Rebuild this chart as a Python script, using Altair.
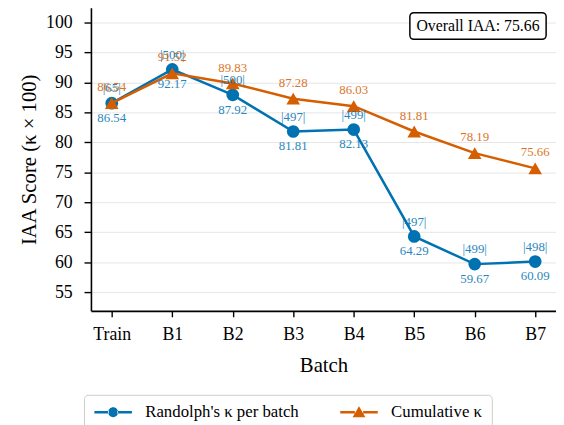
import altair as alt
import pandas as pd

batches = ["Train", "B1", "B2", "B3", "B4", "B5", "B6", "B7"]
per_batch = [86.54, 92.17, 87.92, 81.81, 82.13, 64.29, 59.67, 60.09]
cumulative = [86.54, 91.52, 89.83, 87.28, 86.03, 81.81, 78.19, 75.66]
counts = [65, 500, 500, 497, 499, 497, 499, 498]
series_names = ["Randolph's κ per batch", "Cumulative κ"]
colors = ["#0072B2", "#D55E00"]
y_ticks = [55, 60, 65, 70, 75, 80, 85, 90, 95, 100]

FONT = "Liberation Serif"

rows = []
for b, v, c, n in zip(batches, per_batch, cumulative, counts):
    rows.append(dict(batch=b, series=series_names[0], value=v, label=f"{v:.2f}", count=f"|{n}|"))
    rows.append(dict(batch=b, series=series_names[1], value=c, label=f"{c:.2f}", count=""))
df = pd.DataFrame(rows)

x_enc = alt.X(
    "batch:N", sort=batches, title="Batch",
    scale=alt.Scale(type="point", padding=0.344),
    axis=alt.Axis(labelAngle=0, grid=False, tickSize=6, labelPadding=9, titlePadding=11,
                  labelFontSize=18, titleFontSize=21),
)
y_enc = alt.Y(
    "value:Q", title="IAA Score (κ × 100)",
    scale=alt.Scale(domain=[51.87, 102.47], nice=False, zero=False),
    axis=alt.Axis(values=y_ticks, grid=True, gridColor="#e6e6e6", gridWidth=1,
                  tickSize=7, labelPadding=12, titlePadding=6,
                  labelFontSize=18, titleFontSize=21),
)

base = alt.Chart(df).encode(x=x_enc, y=y_enc)

def sel(i):
    return alt.datum.series == series_names[i]

blue_line = base.transform_filter(sel(0)).mark_line(color=colors[0], strokeWidth=2.5)
blue_pts = base.transform_filter(sel(0)).mark_point(
    shape="circle", filled=True, size=165, color=colors[0], opacity=1)
orange_line = base.transform_filter(sel(1)).mark_line(color=colors[1], strokeWidth=2.5)
orange_pts = base.transform_filter(sel(1)).mark_point(
    shape="triangle-up", filled=True, size=190, color=colors[1], opacity=1)

blue_count = base.transform_filter(sel(0)).mark_text(
    dy=-15, fontSize=13, font=FONT, color=colors[0], opacity=0.85).encode(text="count:N")
blue_val = base.transform_filter(sel(0)).mark_text(
    dy=15, fontSize=13, font=FONT, color=colors[0], opacity=0.85).encode(text="label:N")
orange_val = base.transform_filter(sel(1)).mark_text(
    dy=-16, fontSize=13, font=FONT, color=colors[1], opacity=0.85).encode(text="label:N")

# legend symbols: line + marker (custom paths, unit = 7px)
circle_sym = ("M-2.714,-0.18 H-0.6 V0.18 H-2.714 Z M0.6,-0.18 H2.714 V0.18 H0.6 Z "
              "M-0.714,0 A0.714,0.714 0 1,0 0.714,0 A0.714,0.714 0 1,0 -0.714,0 Z")
tri_sym = ("M-2.714,-0.18 H-0.6 V0.18 H-2.714 Z M0.6,-0.18 H2.714 V0.18 H0.6 Z "
           "M0,-0.86 L0.93,0.71 L-0.93,0.71 Z")

leg = dict(title=None, orient="none", legendX=-7, legendY=392, direction="horizontal",
           symbolSize=196, symbolStrokeWidth=0, symbolOffset=12, labelOffset=24,
           labelFont=FONT, labelFontSize=17, labelColor="black",
           strokeColor="#cccccc", fillColor="white", cornerRadius=4, padding=9,
           columnPadding=40, symbolOpacity=1, labelLimit=300)

legend_layer = base.mark_point(filled=True, opacity=0).encode(
    color=alt.Color("series:N", scale=alt.Scale(domain=series_names, range=colors),
                    legend=alt.Legend(**leg)),
    shape=alt.Shape("series:N", scale=alt.Scale(domain=series_names, range=[circle_sym, tri_sym]),
                    legend=alt.Legend(**leg)),
)

box_df = pd.DataFrame({"t": [f"Overall IAA: {cumulative[-1]:.2f}"]})
box = alt.Chart(box_df).mark_rect(
    fill="white", stroke="black", strokeWidth=1.5, cornerRadius=4
).encode(x=alt.value(323), x2=alt.value(461), y=alt.value(5), y2=alt.value(32))
box_text = alt.Chart(box_df).mark_text(
    font=FONT, fontSize=16, color="black", baseline="middle", align="center"
).encode(x=alt.value(392), y=alt.value(19), text="t:N")

chart = alt.layer(
    legend_layer, blue_line, blue_pts, orange_line, orange_pts,
    blue_count, blue_val, orange_val, box, box_text
).properties(
    width=471, height=307,
    padding={"left": 11, "top": -3, "right": 0, "bottom": 0},
).configure_view(stroke=None).configure_axis(
    labelFont=FONT, titleFont=FONT, labelColor="black", titleColor="black",
    titleFontWeight="normal", domainColor="black", domainWidth=1.6,
    tickColor="black", tickWidth=1.4,
)

chart.save("out.html", embed_options={"renderer": "svg", "actions": False})
